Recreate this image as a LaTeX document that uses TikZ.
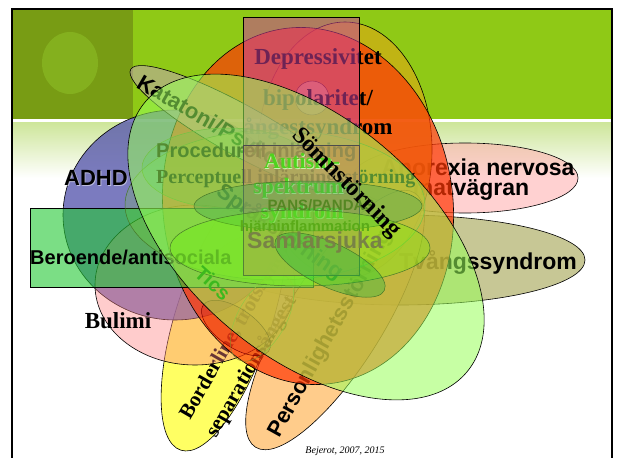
\documentclass[tikz,border=0pt]{standalone}
\usepackage{fontspec}
\setmainfont{Liberation Serif}
\newfontfamily\arialf{Liberation Sans}
\definecolor{hdr}{RGB}{143,201,22}
\definecolor{hdrdark}{RGB}{120,156,20}
\definecolor{hdrcirc}{RGB}{132,176,30}
\definecolor{gradc}{RGB}{206,230,155}
\definecolor{tvang}{RGB}{165,165,85}
\definecolor{anor}{RGB}{255,165,165}
\definecolor{bipol}{RGB}{205,175,20}
\definecolor{pers}{RGB}{255,183,91}
\definecolor{bord}{RGB}{255,255,61}
\definecolor{adhd}{RGB}{90,90,175}
\definecolor{bul}{RGB}{255,133,133}
\definecolor{dep}{RGB}{255,55,5}
\definecolor{ber}{RGB}{35,200,52}
\definecolor{kat}{RGB}{195,165,180}
\definecolor{rmag}{RGB}{202,64,155}
\definecolor{somn}{RGB}{153,255,90}
\definecolor{rtan}{RGB}{190,140,100}
\definecolor{autg}{RGB}{80,210,30}
\definecolor{halo}{RGB}{200,245,170}
\definecolor{pansg}{RGB}{85,135,35}
\definecolor{ticsg}{RGB}{60,185,30}
\definecolor{samg}{RGB}{120,130,70}
\definecolor{lineg}{RGB}{70,120,40}
\definecolor{olivel}{RGB}{140,130,40}
\begin{document}
\begin{tikzpicture}[x=1pt,y=-1pt,
  shp/.style={draw=black, line width=0.6pt},
  thin/.style={draw=lineg, line width=0.5pt},
  sans/.style={font=\arialf\bfseries\fontsize{#1}{#1}\selectfont, inner sep=0pt},
  serif/.style={font=\bfseries\fontsize{#1}{#1}\selectfont, inner sep=0pt}]
\useasboundingbox (0,0) rectangle (617,457);
\fill[white] (0,0) rectangle (617,457);
% slide header
\fill[hdr] (12,10) rectangle (612,119);
\fill[hdrdark] (12,10) rectangle (133,119);
\fill[hdrcirc] (70,63) ellipse [x radius=28, y radius=31];
\shade[top color=gradc, bottom color=white] (12,123) rectangle (612,178);
\draw[line width=2.5pt] (12,460) -- (12,9) -- (612,9) -- (612,460);
% Tvangssyndrom
\draw[shp, fill=tvang, fill opacity=0.62] (400,260) ellipse [x radius=185, y radius=45];
\node[sans=23] (tvang) at (488,262) {Tvångssyndrom};
% Anorexia
\draw[shp, fill=anor, fill opacity=0.5] (465,178) ellipse [x radius=113, y radius=35];
\node[sans=23] (anor) at (478,167) {Anorexia nervosa};
\node[sans=23] (matv) at (471,190) {matvägran};
% bipolar yellow
\draw[shp, fill=bipol, fill opacity=0.8] (345,150) ellipse [x radius=87, y radius=128];
% Personlighetsstorning
\draw[shp, fill=pers, fill opacity=0.7, rotate around={58:(335,320)}] (335,320) ellipse [x radius=150, y radius=48];
\node[sans=22, rotate=61, anchor=west] (pers) at (274,436) {Personlighetsstörning};
% Borderline
\draw[shp, fill=bord, fill opacity=0.8, rotate around={72:(224,317)}] (224,317) ellipse [x radius=140, y radius=48];
\node[serif=21, rotate=60, anchor=west] (bord) at (186,418) {Borderline, trotssyndrom};
\node[serif=21, rotate=60, anchor=west] (sep) at (212,436) {separationsångest};
% ADHD
\draw[shp, fill=adhd, fill opacity=0.8] (175,215) ellipse [x radius=112, y radius=105];
\node[sans=22, text=white, opacity=0.5] at (96.8,178.8) {ADHD};
\node[sans=22] (adhd) at (96,178) {ADHD};
% Bulimi
\draw[shp, fill=bul, fill opacity=0.41] (195,285) ellipse [x radius=100, y radius=80];
\node[serif=23] (bul) at (118,321) {Bulimi};
% Depressivitet
\draw[shp, fill=dep, fill opacity=0.7, rotate around={7:(308,206)}] (308,206) ellipse [x radius=145, y radius=179];
\draw[draw=black!60!red, line width=0.4pt, fill=pink, fill opacity=0.4] (312,98) circle [radius=17];
\draw[draw=black!50!red, line width=0.5pt, fill=red!70!black, fill opacity=0.15, rotate around={-35:(236,328)}] (236,328) ellipse [x radius=40, y radius=19];
\node[serif=23] (dep) at (318,59) {Depressivitet};
\node[serif=23] (bip) at (318,100) {bipolaritet/};
\node[serif=23] (ang) at (318,129) {ångestsyndrom};
% Beroende
\draw[shp, fill=ber, fill opacity=0.6] (30,208) rectangle (313,287);
\node[sans=20, anchor=west] (ber) at (30,257) {Beroende/antisociala};
% Katatoni
\draw[shp, fill=kat, fill opacity=0.55, rotate around={-29:(240,130)}] (240,130) ellipse [x radius=125, y radius=25];
\node[sans=22, rotate=-30, anchor=west] (kat) at (138,82) {Katatoni/Psykos};
% faint inner ellipses
\draw[thin, fill=teal!60!green, fill opacity=0.25] (228,168) ellipse [x radius=86, y radius=40];
\draw[thin, fill=green!50!yellow, fill opacity=0.15] (275,205) ellipse [x radius=150, y radius=75];
\draw[draw=olivel, line width=0.5pt, rotate around={60:(262,318)}] (262,318) ellipse [x radius=48, y radius=24];
\node[sans=20, anchor=west] (proc) at (156,152) {Procedurell inlärning};
\node[serif=20, anchor=west] (perc) at (156,179) {Perceptuell inlärningsstörning};
\node[sans=22, rotate=-35] (sprak) at (280,232) {Språkstörning};
% tall magenta rectangle
\draw[shp, fill=rmag, fill opacity=0.55] (243,17) rectangle (359,145);
% Somnstorning
\draw[shp, fill=somn, fill opacity=0.55, rotate around={-40:(306,237)}] (306,237) ellipse [x radius=210, y radius=119];
% Autism rectangle
\draw[draw=black!70, line width=0.5pt, fill=rtan, fill opacity=0.6] (243,145) rectangle (359,275);
\node[text=halo, align=center, inner sep=0pt, font=\bfseries\fontsize{22}{25}\selectfont] at (302.8,188.8) {Autism-\\spektrum-\\syndrom};
\node[text=autg, align=center, inner sep=0pt, font=\bfseries\fontsize{22}{25}\selectfont] (aut) at (302,188) {Autism-\\spektrum-\\syndrom};
% PANS
\draw[thin, fill=green!35!gray, fill opacity=0.45] (308,206) ellipse [x radius=114, y radius=25];
\node[sans=15, text=pansg] (pans) at (321,205) {PANS/PANDAS};
\node[sans=15, text=pansg] (hjarn) at (305,228) {hjärninflammation};
% Samlarsjuka
\draw[thin, fill=green!60!yellow, fill opacity=0.3] (300,248) ellipse [x radius=130, y radius=38];
\draw[thin, fill=teal!50!green, fill opacity=0.3, rotate around={-25:(330,265)}] (330,265) ellipse [x radius=60, y radius=22];
\node[sans=23, text=samg] (saml) at (315,243) {Samlarsjuka};
% Tics
\node[sans=20, text=ticsg, rotate=-42] (tics) at (213,283) {Tics};
% Somnstorning label
\node[serif=24, rotate=-45] (somn) at (346,183) {Sömnstörning};
% source
\node[font=\itshape\fontsize{10}{10}\selectfont] (src) at (345,451) {Bejerot, 2007, 2015};
\end{tikzpicture}
\end{document}
